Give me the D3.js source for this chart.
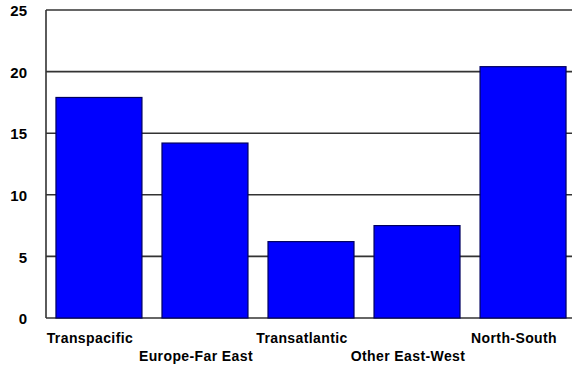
<!DOCTYPE html>
<html>
<head>
<meta charset="utf-8">
<script src="https://cdn.jsdelivr.net/npm/d3@7"></script>
<style>
  body { margin: 0; background: #fff; }
  svg text { font-family: "Liberation Sans", Arial, sans-serif; font-weight: bold; fill: #000; }
</style>
</head>
<body>
<svg id="chart" width="572" height="369"></svg>
<script>
var categories = ["Transpacific", "Europe-Far East", "Transatlantic", "Other East-West", "North-South"];
var values = [17.9, 14.2, 6.2, 7.5, 20.4];
var y_ticks = [0, 5, 10, 15, 20, 25];

var svg = d3.select("#chart");
var left = 46, top_y = 10, bottom = 318;

var x = d3.scaleBand().domain(categories).range([left, left + 530]).paddingInner(0.189).paddingOuter(0.094);
var y = d3.scaleLinear().domain([0, 25]).range([bottom, top_y]);

// grid lines
svg.append("g").selectAll("line").data(y_ticks).enter().append("line").
    attr("x1", left).attr("x2", 572).
    attr("y1", function(d) { return y(d); }).attr("y2", function(d) { return y(d); }).
    attr("stroke", "#333").attr("stroke-width", 1.6);

// bars
svg.append("g").selectAll("rect").data(values).enter().append("rect").
    attr("x", function(d, i) { return x(categories[i]); }).
    attr("y", function(d) { return y(d); }).
    attr("width", x.bandwidth()).
    attr("height", function(d) { return bottom - y(d); }).
    attr("fill", "#0000ff").attr("stroke", "#000060").attr("stroke-width", 1.2);

// left axis line
svg.append("line").attr("x1", left).attr("x2", left).attr("y1", top_y).attr("y2", bottom).
    attr("stroke", "#333").attr("stroke-width", 1.6);

// y tick labels
svg.append("g").selectAll("text").data(y_ticks).enter().append("text").
    attr("x", 27).attr("y", function(d) { return y(d) + 1; }).
    attr("dy", "0.35em").attr("text-anchor", "end").
    style("font-size", "15px").
    text(function(d) { return d; });

// category labels, staggered
svg.append("g").selectAll("text").data(categories).enter().append("text").
    attr("x", function(d) { return x(d) + x.bandwidth() / 2 - 9; }).
    attr("y", function(d, i) { return i % 2 == 0 ? 338 : 356; }).
    attr("dy", "0.35em").attr("text-anchor", "middle").
    style("font-size", "14px").style("letter-spacing", "0.4px").
    text(function(d) { return d; });
</script>
</body>
</html>
